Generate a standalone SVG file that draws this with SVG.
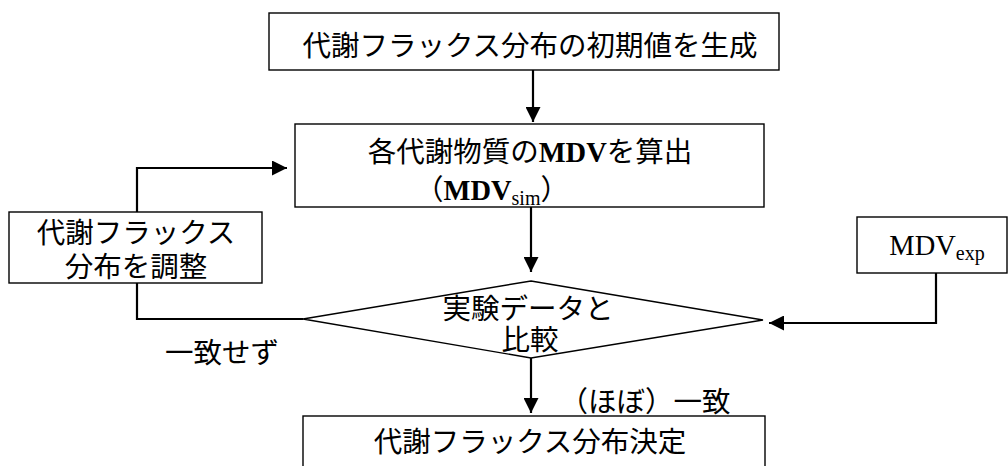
<svg xmlns="http://www.w3.org/2000/svg" width="1008" height="466" viewBox="0 0 1008 466">
<style>
.box{fill:#fff;stroke:#000;stroke-width:1.4}
.t{font-family:"Liberation Serif","Noto Sans CJK JP",serif;font-size:28.5px;fill:#000;text-anchor:middle;dominant-baseline:central}
.c{fill:none;stroke:#000;stroke-width:2.2}
</style>
<defs>
<marker id="ah" markerUnits="userSpaceOnUse" markerWidth="16" markerHeight="15" refX="15" refY="7.5" orient="auto">
<path d="M0,0 L15,7.5 L0,15 Z" fill="#000"/>
</marker>
</defs>
<rect width="1008" height="466" fill="#fff"/>
<g id="connectors">
<path class="c" d="M533 70 V122" marker-end="url(#ah)"/>
<path class="c" d="M531 207 V272" marker-end="url(#ah)"/>
<path class="c" d="M531 358 V413" marker-end="url(#ah)"/>
<path class="c" d="M303 319 H137 V283"/>
<path class="c" d="M137 212 V168 H287" marker-end="url(#ah)"/>
<path class="c" d="M936 273 V323 H769" marker-end="url(#ah)"/>
</g>
<g id="init">
<rect class="box" x="269" y="13" width="510" height="57"/>
<text class="t" x="530" y="46">代謝フラックス分布の初期値を生成</text>
</g>
<g id="calc">
<rect class="box" x="295" y="124" width="469" height="83"/>
<text class="t" x="530" y="152">各代謝物質の<tspan font-weight="bold">MDV</tspan>を算出</text>
<text class="t" x="492" y="190">（<tspan font-weight="bold">MDV</tspan><tspan font-size="20" dy="8">sim</tspan><tspan dy="-8">）</tspan></text>
</g>
<g id="adjust">
<rect class="box" x="9" y="212" width="253" height="71"/>
<text class="t" x="136" y="233">代謝フラックス</text>
<text class="t" x="136" y="267">分布を調整</text>
</g>
<g id="compare">
<polygon class="box" points="531,281 763,320 531,358 303,319"/>
<text class="t" x="528" y="309">実験データと</text>
<text class="t" x="530" y="340">比較</text>
</g>
<g id="exp">
<rect class="box" x="857" y="217" width="150" height="56"/>
<text class="t" x="937" y="245">MDV<tspan font-size="20" dy="8">exp</tspan></text>
</g>
<g id="result">
<rect class="box" x="303" y="416" width="462" height="60"/>
<text class="t" x="530" y="442">代謝フラックス分布決定</text>
</g>
<text class="t" x="222" y="353">一致せず</text>
<text class="t" x="645" y="402">（ほぼ）一致</text>
</svg>
